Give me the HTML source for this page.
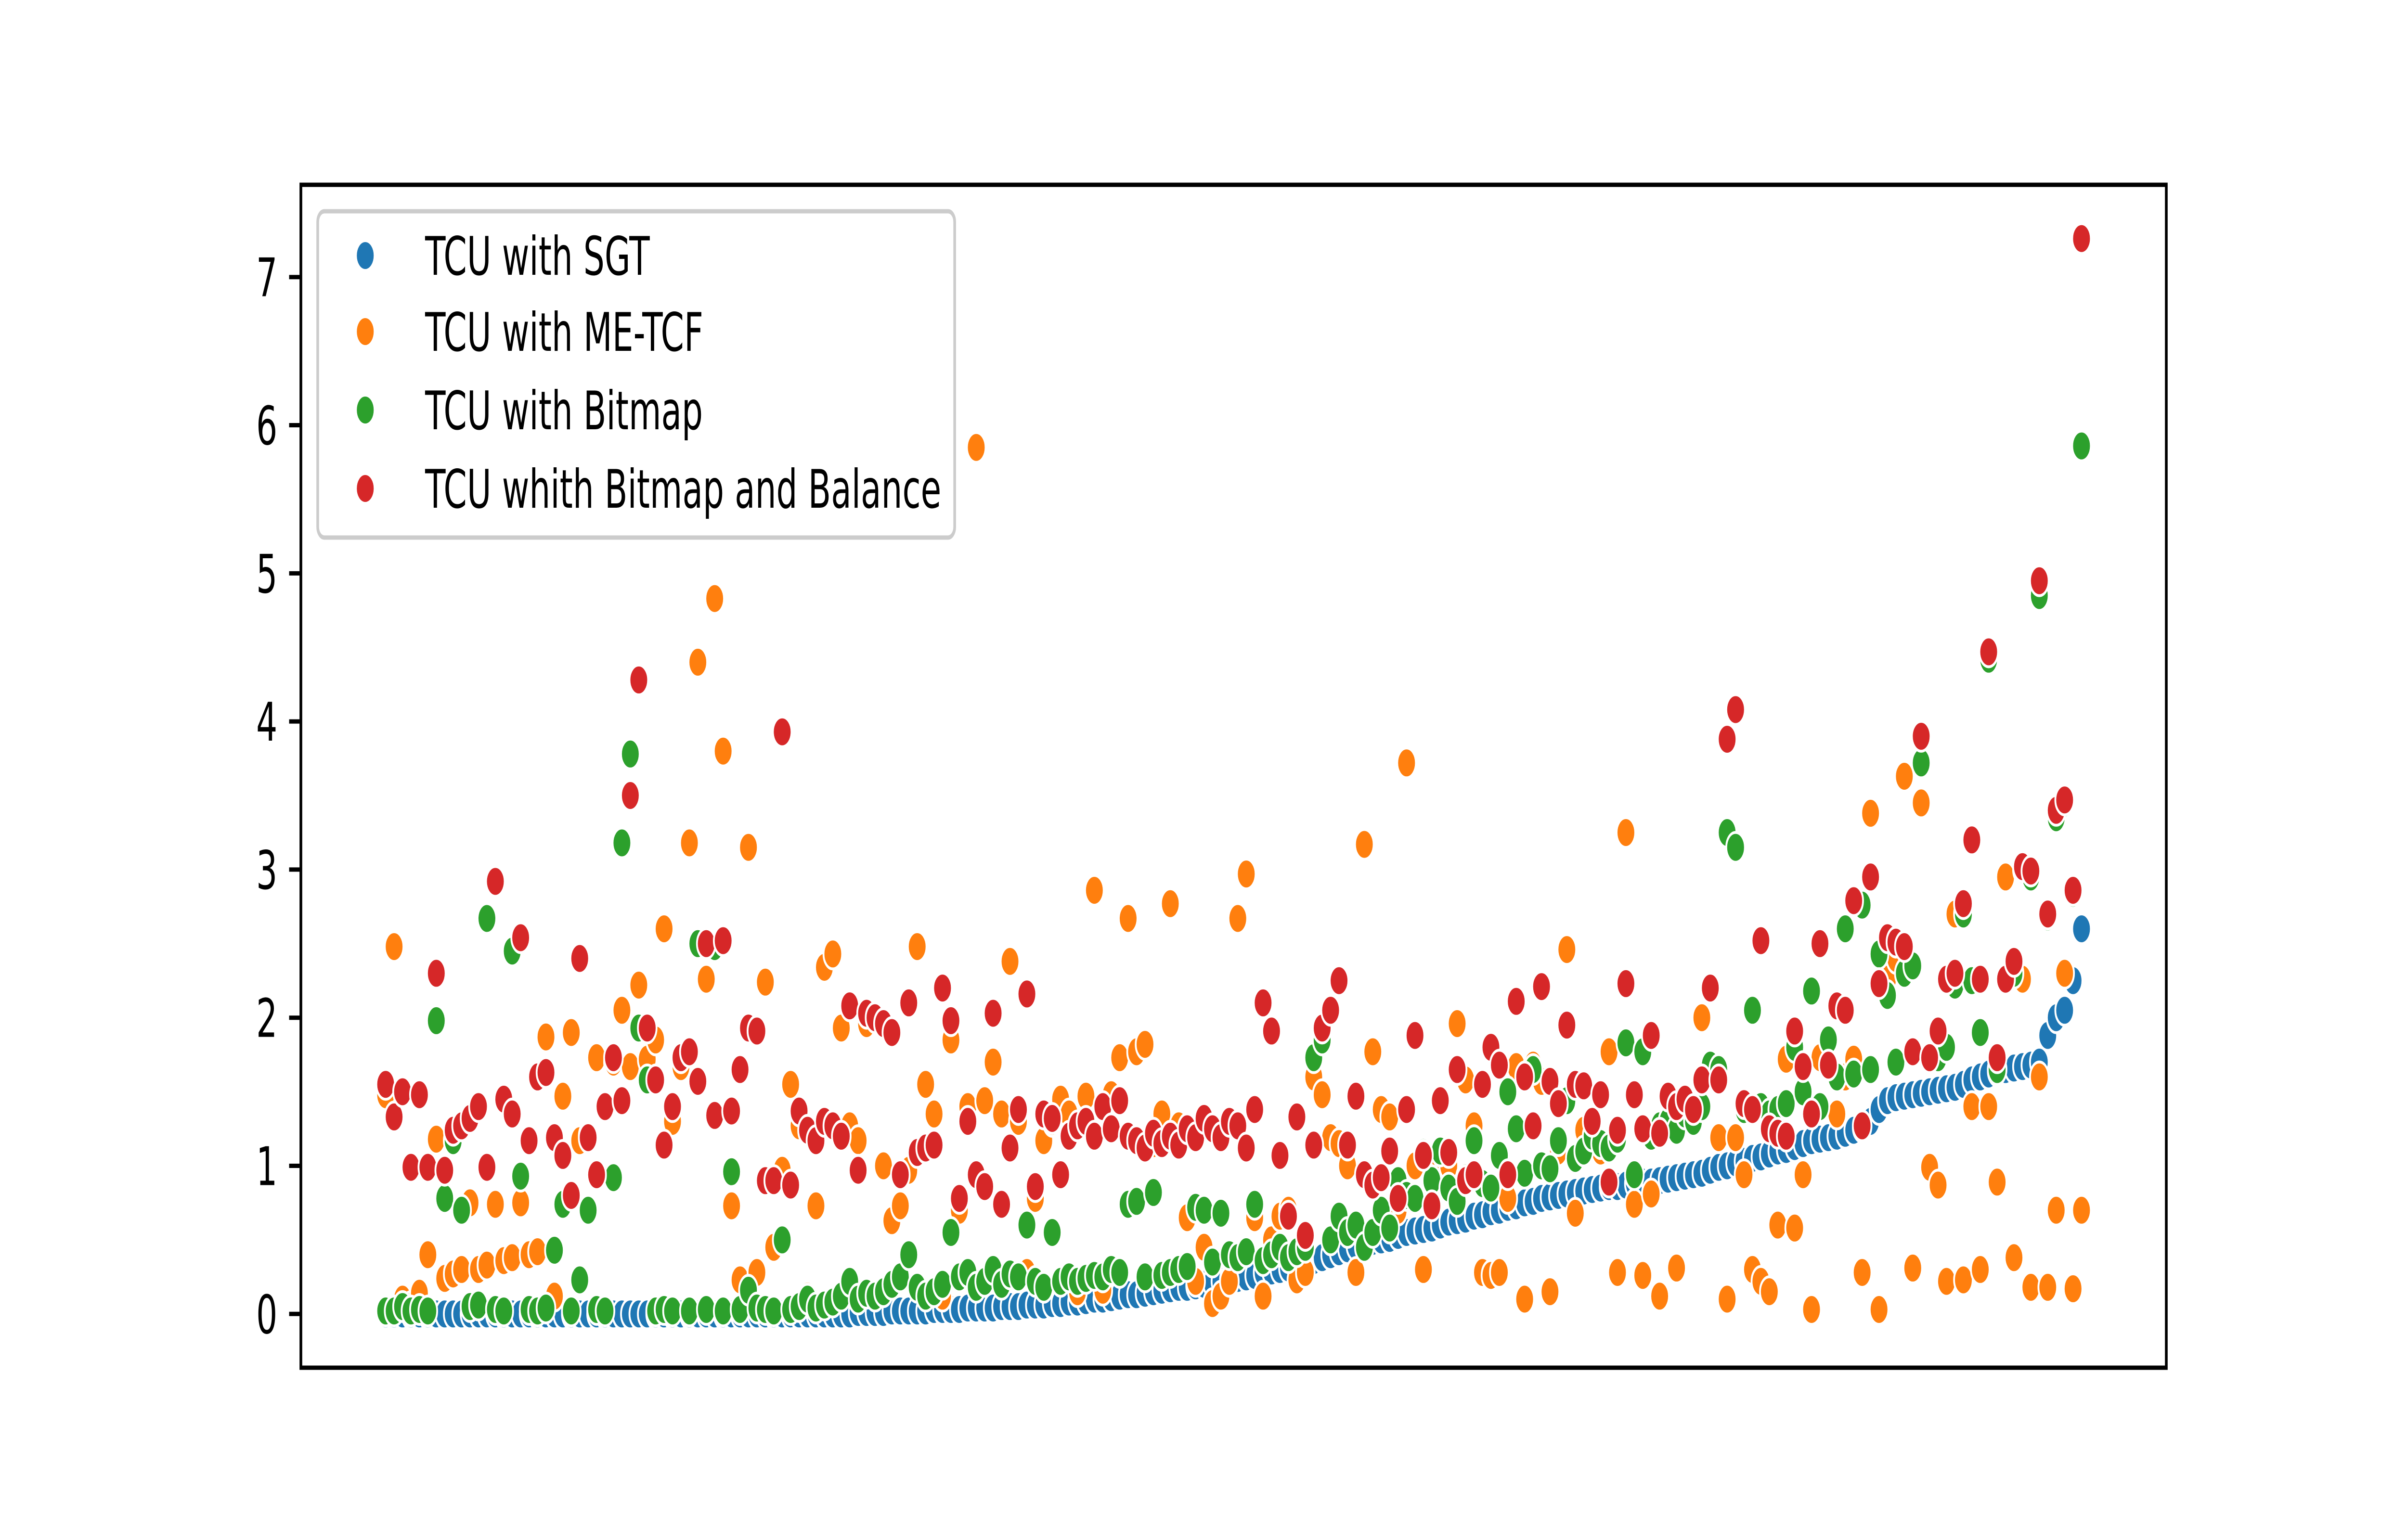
<!DOCTYPE html>
<html><head><meta charset="utf-8"><style>
html,body{margin:0;padding:0;background:#fff;overflow:hidden;width:100vw;height:100vh}
svg{display:block;width:100vw;height:100vh}
text{font-family:"DejaVu Sans","Liberation Sans",sans-serif}
</style></head><body>
<svg id="chart" viewBox="0 0 8000 3200" preserveAspectRatio="none" xmlns="http://www.w3.org/2000/svg">
<rect x="0" y="0" width="8000" height="3200" fill="#fff"/>
<g id="marks"></g>
<g id="axes"></g>
<g id="legend"></g>
</svg>
<script>
const seriesNames = ["TCU with SGT","TCU with ME-TCF","TCU with Bitmap","TCU whith Bitmap and Balance"];
const seriesColors = ["#1f77b4","#ff7f0e","#2ca02c","#d62728"];
const yTicks = [0,1,2,3,4,5,6,7];
const sgt = [0,0,0,0,0,0,0,0,0,0,0,0,0,0,0,0,0,0,0,0,0,0,0,0,0,0,0,0,0,0,0,0,0,0,0,0,0,0,0,0,0,0,0,0,0,0,0,0,0,0,0,0,0,0,0,0,
0.01,0.01,0.01,0.01,0.02,0.02,0.02,0.02,0.02,0.03,0.03,0.03,0.03,0.04,
0.04,0.04,0.04,0.05,0.05,0.05,0.06,0.06,0.06,0.07,
0.07,0.08,0.08,0.09,0.1,0.1,0.11,0.12,0.13,0.13,
0.14,0.15,0.16,0.17,0.18,0.18,0.19,0.2,0.21,0.22,
0.23,0.24,0.25,0.26,0.28,0.29,0.3,0.31,0.32,0.34,
0.36,0.38,0.4,0.42,0.44,0.46,0.48,0.49,0.5,0.51,
0.53,0.55,0.56,0.57,0.58,0.6,0.62,0.63,0.64,0.66,
0.67,0.69,0.7,0.72,0.73,0.75,0.76,0.78,0.79,0.8,
0.81,0.82,0.83,0.84,0.85,0.86,0.86,0.87,0.88,0.89,
0.89,0.9,0.91,0.92,0.93,0.94,0.95,0.97,0.99,1.0,
1.02,1.03,1.05,1.06,1.08,1.1,1.11,1.13,1.15,1.17,
1.18,1.19,1.2,1.22,1.24,1.26,1.3,1.38,1.44,1.46,
1.47,1.48,1.49,1.5,1.51,1.52,1.53,1.55,1.58,1.6,
1.62,1.64,1.65,1.66,1.67,1.68,1.7,1.88,2.0,2.05,
2.25,2.6];
const metcf = [1.48,2.48,0.1,0.05,0.14,0.4,1.18,0.24,0.27,0.3,
0.75,0.3,0.33,0.74,0.36,0.38,0.75,0.4,0.42,1.87,
0.12,1.47,1.9,1.17,1.2,1.73,1.4,1.7,2.05,1.67,
2.22,1.72,1.85,2.6,1.3,1.67,3.18,4.4,2.26,4.83,
3.8,0.73,0.23,3.15,0.28,2.24,0.45,0.97,1.55,1.27,
0.12,0.73,2.34,2.43,1.93,1.27,1.17,1.96,0.13,1.0,
0.63,0.73,0.97,2.48,1.55,1.35,0.12,1.85,0.7,1.4,
5.85,1.44,1.7,1.35,2.38,1.3,0.28,0.78,1.17,1.3,
1.45,1.35,0.15,1.47,2.86,0.16,1.48,1.73,2.67,1.77,
1.82,1.15,1.35,2.77,1.27,0.65,0.22,0.45,0.07,0.12,
0.22,2.67,2.97,0.65,0.12,0.5,0.66,0.7,0.23,0.28,
1.6,1.48,1.19,1.15,1.0,0.28,3.17,1.77,1.38,1.33,
0.7,3.72,1.0,0.3,0.87,1.05,1.0,1.96,1.58,1.27,
0.28,0.26,0.28,0.78,1.67,0.1,1.68,1.57,0.15,1.1,
2.46,0.68,1.24,1.17,1.1,1.77,0.28,3.25,0.74,0.26,
0.81,0.12,1.3,0.31,1.35,1.33,2.0,1.67,1.19,0.1,
1.19,0.94,0.3,0.22,0.15,0.6,1.72,0.58,0.94,0.03,
1.73,1.85,1.35,1.6,1.72,0.28,3.38,0.03,2.26,2.4,
3.63,0.31,3.45,0.99,0.87,0.22,2.7,0.23,1.4,0.3,
1.4,0.89,2.95,0.38,2.26,0.18,1.6,0.18,0.7,2.3,
0.17,0.7];
const bitmap = [0.02,0.02,0.05,0.02,0.03,0.02,1.98,0.78,1.17,0.7,
0.05,0.06,2.67,0.03,0.02,2.45,0.93,0.03,0.02,0.04,
0.43,0.74,0.02,0.23,0.7,0.03,0.02,0.92,3.18,3.78,
1.93,1.58,0.02,0.03,0.02,1.73,0.02,2.5,0.03,2.48,
0.02,0.96,0.03,0.16,0.04,0.03,0.02,0.5,0.03,0.05,
0.1,0.04,0.06,0.08,0.12,0.22,0.1,0.14,0.12,0.15,
0.2,0.25,0.4,0.18,0.12,0.15,0.2,0.55,0.25,0.28,
0.18,0.22,0.3,0.2,0.27,0.25,0.6,0.22,0.18,0.55,
0.22,0.25,0.22,0.24,0.26,0.25,0.3,0.28,0.74,0.76,
0.25,0.82,0.26,0.28,0.3,0.32,0.72,0.7,0.35,0.68,
0.4,0.38,0.42,0.74,0.36,0.4,0.45,0.38,0.42,0.45,
1.73,1.85,0.5,0.66,0.55,0.6,0.45,0.55,0.7,0.58,
0.9,0.8,0.78,1.09,0.9,1.1,0.85,0.76,0.92,1.17,
0.88,0.85,1.07,1.5,1.25,0.95,1.65,1.0,0.98,1.17,
1.44,1.05,1.1,1.2,1.15,1.12,1.18,1.83,0.94,1.77,
1.2,1.27,1.3,1.24,1.35,1.3,1.4,1.68,1.65,3.25,
3.15,1.38,2.05,1.4,1.35,1.38,1.42,1.8,1.5,2.18,
1.4,1.85,1.6,2.6,1.62,2.76,1.65,2.43,2.15,1.7,
2.3,2.35,3.72,1.72,1.73,1.8,2.22,2.7,2.25,1.9,
4.42,1.65,2.26,2.3,3.0,2.95,4.85,2.68,3.35,3.45,
2.84,5.86];
const balance = [1.55,1.33,1.5,0.99,1.48,0.99,2.3,0.97,1.24,1.27,
1.32,1.4,0.99,2.92,1.45,1.35,2.54,1.17,1.6,1.63,
1.19,1.07,0.8,2.4,1.19,0.94,1.4,1.73,1.44,3.5,
4.28,1.93,1.58,1.14,1.4,1.73,1.77,1.57,2.5,1.34,
2.52,1.37,1.65,1.93,1.91,0.9,0.9,3.93,0.87,1.37,
1.24,1.17,1.3,1.27,1.2,2.08,0.97,2.03,2.0,1.96,
1.9,0.94,2.1,1.09,1.12,1.14,2.2,1.98,0.78,1.3,
0.94,0.86,2.03,0.74,1.12,1.38,2.16,0.86,1.35,1.32,
0.94,1.2,1.27,1.3,1.2,1.4,1.25,1.44,1.2,1.17,
1.12,1.22,1.15,1.2,1.14,1.25,1.19,1.32,1.25,1.19,
1.3,1.27,1.12,1.38,2.1,1.91,1.07,0.66,1.33,0.53,
1.14,1.93,2.05,2.25,1.14,1.47,0.94,0.87,0.92,1.1,
0.78,1.38,1.88,1.07,0.73,1.44,1.09,1.65,0.9,0.94,
1.55,1.8,1.68,0.94,2.11,1.6,1.27,2.21,1.57,1.42,
1.95,1.55,1.54,1.3,1.48,0.89,1.24,2.23,1.48,1.25,
1.88,1.22,1.47,1.4,1.45,1.38,1.58,2.2,1.58,3.88,
4.08,1.42,1.38,2.52,1.25,1.22,1.2,1.91,1.67,1.35,
2.5,1.68,2.08,2.05,2.79,1.27,2.95,2.23,2.54,2.51,
2.48,1.77,3.9,1.73,1.91,2.26,2.3,2.77,3.2,2.26,
4.47,1.73,2.26,2.38,3.02,2.99,4.95,2.7,3.4,3.47,
2.86,7.26];
const allSeries = [sgt, metcf, bitmap, balance];

const NS = "http://www.w3.org/2000/svg";
const AX = {left:1000, right:7200, top:384, bottom:2842};
const nPts = Math.max(...allSeries.map(s => s.length));
const xMin = -0.05*(nPts-1), xMax = (nPts-1)*1.05;
let yDataMax = Math.max(...allSeries.map(s => Math.max(...s)));
let yDataMin = Math.min(...allSeries.map(s => Math.min(...s)));
const ySpan = yDataMax - yDataMin;
const yMin = yDataMin - 0.05*ySpan, yMax = yDataMax + 0.05*ySpan;
function xScale(i){ return AX.left + (i - xMin)/(xMax - xMin)*(AX.right-AX.left); }
function yScale(v){ return AX.bottom - (v - yMin)/(yMax - yMin)*(AX.bottom-AX.top); }
function mk(tag, attrs, parent){ const e=document.createElementNS(NS,tag); for(const k in attrs) e.setAttribute(k, attrs[k]); parent.appendChild(e); return e; }

const marks = document.getElementById('marks');
const seriesKeys = ['sgt','metcf','bitmap','balance'];
allSeries.forEach((arr, s) => {
  const g = mk('g', {}, marks);
  
  
  arr.forEach((v, i) => {
    const c = mk('circle', {cx: xScale(i).toFixed(1), cy: yScale(v).toFixed(1), r: 31, fill: seriesColors[s], stroke: '#fff', 'stroke-width': 6}, g);
    
    
  });
});

const axes = document.getElementById('axes');
yTicks.forEach(t => {
  const y = yScale(t);
  const ln = mk('line', {x1: AX.left-39, x2: AX.left, y1: y, y2: y, stroke: '#000', 'stroke-width': 9}, axes);
  
  
  const tx = mk('text', {x: AX.left-78, y: y+40, 'text-anchor': 'end', 'font-size': 111, fill: '#000'}, axes);
  tx.textContent = String(t);
  
  
});
const frame = mk('rect', {x: AX.left, y: AX.top, width: AX.right-AX.left, height: AX.bottom-AX.top, fill: 'none', stroke: '#000', 'stroke-width': 9}, axes);



const legend = document.getElementById('legend');
const box = mk('rect', {x: 1056, y: 439, width: 2117, height: 678, rx: 22, ry: 22, fill: '#fff', 'fill-opacity': 0.8, stroke: '#cccccc', 'stroke-width': 9}, legend);


const legY = [531, 689, 852, 1015];
seriesNames.forEach((nm, s) => {
  const g = mk('g', {}, legend);
  
  
  mk('circle', {cx: 1214, cy: legY[s], r: 31, fill: seriesColors[s], stroke: '#fff', 'stroke-width': 6}, g);
  const t = mk('text', {x: 1413, y: legY[s]+40, 'font-size': 111, fill: '#000'}, g);
  t.textContent = nm;
});
</script>
</body></html>
